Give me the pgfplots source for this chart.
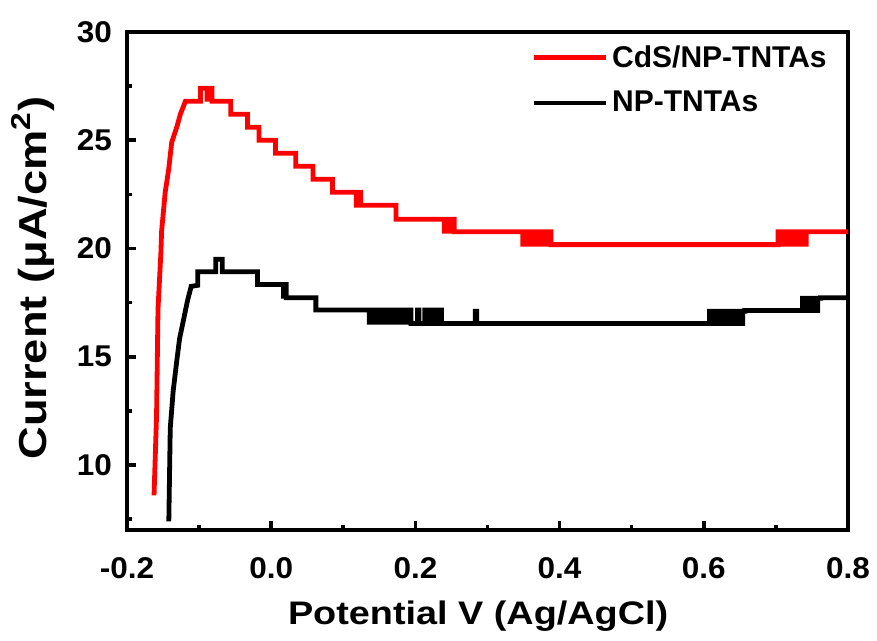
\documentclass[border=0pt]{standalone}
\usepackage{pgfplots}
\pgfplotsset{compat=1.18}
\usepackage{fontspec}
\setmainfont{Liberation Sans}
\newfontfamily\labelfont[FakeStretch=1.16]{Liberation Sans}
\newfontfamily\tickfont[FakeStretch=1.05]{Liberation Sans}
\usetikzlibrary{calc}
\begin{document}
\begin{tikzpicture}
\begin{axis}[
  name=ax,
  scale only axis,
  width=360.5pt, height=249pt,
  xmin=-0.2, xmax=0.8, ymin=7, ymax=30,
  axis line style={line width=2pt},
  every tick/.style={line width=1.8pt, black},
  tick align=inside,
  xtick pos=bottom, ytick pos=left,
  major tick length=4.5pt, minor tick length=2.5pt,
  xtick={-0.2,0,0.2,0.4,0.6,0.8},
  minor xtick={-0.1,0.1,0.3,0.5,0.7},
  ytick={10,15,20,25,30},
  minor ytick={7.5,12.5,17.5,22.5,27.5},
  /pgf/number format/assume math mode=true,
  xticklabel style={/pgf/number format/fixed, /pgf/number format/fixed zerofill, /pgf/number format/precision=1, yshift=-10.5pt},
  yticklabel style={xshift=-4pt},
  tick label style={font=\fontsize{15}{16}\selectfont\tickfont\bfseries},
  xlabel={Potential V (Ag/AgCl)},
  ylabel={Current (μA/cm\textsuperscript{2})},
  every axis x label/.style={at={(axis description cs:0.487,0)}, yshift=-43pt, anchor=center, font=\fontsize{16.3}{18}\selectfont\labelfont\bfseries},
  every axis y label/.style={at={(axis description cs:0,0.506)}, xshift=-47pt, rotate=90, anchor=center, font=\fontsize{19.5}{21}\selectfont\labelfont\bfseries},
  legend style={at={(rel axis cs:0.552,0.99)}, anchor=north west, draw=none, fill=none,
    font=\fontsize{15}{16}\selectfont\bfseries, row sep=6.5pt},
  legend cell align=left,
  legend image code/.code={\draw[#1] (0pt,0pt) -- (36pt,0pt);},
]
\addplot[red, line width=2.4pt, line join=miter] coordinates {
(-0.1625,8.6) (-0.159,12.3) (-0.157,17.2) (-0.153,19.8) (-0.152,20.8) (-0.147,22.6)
(-0.142,23.7) (-0.138,24.9) (-0.131,25.6) (-0.126,26.2) (-0.119,26.8)
(-0.098,26.8) (-0.098,27.4) (-0.089,27.4) (-0.089,26.9) (-0.086,26.9) (-0.086,27.4)
(-0.082,27.4) (-0.082,26.8) (-0.056,26.8) (-0.056,26.2) (-0.033,26.2) (-0.033,25.6)
(-0.017,25.6) (-0.017,25.0) (0.006,25.0) (0.006,24.4) (0.034,24.4) (0.034,23.8)
(0.058,23.8) (0.058,23.2) (0.085,23.2) (0.085,22.6) (0.118,22.6) (0.118,22.0)
(0.121,22.0) (0.121,22.6) (0.124,22.6) (0.124,22.0) (0.173,22.0) (0.173,21.35)
(0.240,21.35) (0.240,20.8) (0.244,20.8) (0.244,21.35) (0.248,21.35) (0.248,20.8)
(0.251,20.8) (0.251,21.35) (0.254,21.35) (0.254,20.77)
(0.349,20.77) (0.349,20.2) (0.353,20.2) (0.353,20.77) (0.360,20.77) (0.360,20.2)
(0.365,20.2) (0.365,20.77) (0.370,20.77) (0.370,20.2) (0.375,20.2) (0.375,20.77)
(0.380,20.77) (0.380,20.2) (0.384,20.2) (0.384,20.77) (0.388,20.77) (0.388,20.18)
(0.703,20.18) (0.703,20.77) (0.707,20.77) (0.707,20.2) (0.712,20.2) (0.712,20.77)
(0.718,20.77) (0.718,20.2) (0.722,20.2) (0.722,20.77) (0.728,20.77) (0.728,20.2)
(0.733,20.2) (0.733,20.77) (0.738,20.77) (0.738,20.2) (0.742,20.2) (0.742,20.77)
(0.800,20.77)
};
\addlegendentry{CdS/NP-TNTAs}
\addplot[black, line width=2.4pt, line join=miter] coordinates {
(-0.142,7.4) (-0.140,11.7) (-0.136,13.4) (-0.131,14.8) (-0.127,15.85) (-0.121,16.8)
(-0.116,17.6) (-0.111,18.25) (-0.102,18.3) (-0.102,18.93) (-0.077,18.93) (-0.077,19.5)
(-0.068,19.5) (-0.068,18.93) (-0.019,18.93) (-0.019,18.34) (0.017,18.34) (0.017,17.8)
(0.019,17.8) (0.019,18.34) (0.021,18.34) (0.021,17.73) (0.062,17.73) (0.062,17.16)
(0.136,17.16) (0.136,16.6) (0.140,16.6) (0.140,17.16) (0.146,17.16) (0.146,16.6)
(0.152,16.6) (0.152,17.16) (0.158,17.16) (0.158,16.6) (0.164,16.6) (0.164,17.16)
(0.170,17.16) (0.170,16.6) (0.176,16.6) (0.176,17.16) (0.182,17.16) (0.182,16.6)
(0.188,16.6) (0.188,17.16) (0.194,17.16) (0.194,16.54) (0.203,16.54) (0.203,17.16)
(0.205,17.16) (0.205,16.54) (0.213,16.54) (0.213,17.16) (0.215,17.16) (0.215,16.54)
(0.221,16.54) (0.221,17.16) (0.223,17.16) (0.223,16.54) (0.228,16.54) (0.228,17.16)
(0.230,17.16) (0.230,16.54) (0.234,16.54) (0.234,17.16) (0.236,17.16) (0.236,16.54)
(0.283,16.54) (0.283,17.1) (0.285,17.1) (0.285,16.54)
(0.608,16.54) (0.608,17.1) (0.612,17.1) (0.612,16.54) (0.618,16.54) (0.618,17.1)
(0.624,17.1) (0.624,16.54) (0.630,16.54) (0.630,17.1) (0.636,17.1) (0.636,16.54)
(0.642,16.54) (0.642,17.1) (0.648,17.1) (0.648,16.54) (0.654,16.54) (0.654,17.1)
(0.657,17.1) (0.657,17.14)
(0.737,17.14) (0.737,17.7) (0.742,17.7) (0.742,17.14) (0.748,17.14) (0.748,17.7)
(0.753,17.7) (0.753,17.14) (0.758,17.14) (0.758,17.7) (0.762,17.7) (0.762,17.73)
(0.800,17.73)
};
\addlegendentry{NP-TNTAs}
\end{axis}
\pgfresetboundingbox
\path ($(ax.south west)+(-63.5pt,-55.5pt)$) rectangle ($(ax.north east)+(14.5pt,16pt)$);
\end{tikzpicture}
\end{document}
